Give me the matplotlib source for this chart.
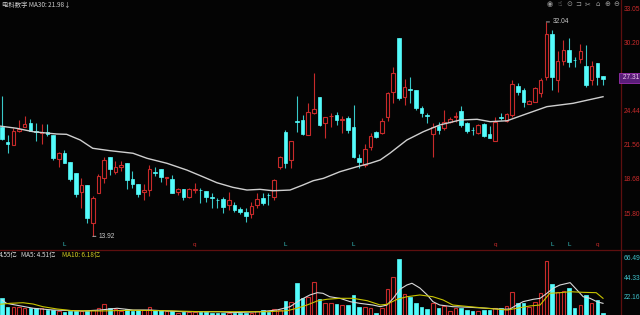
import numpy as np
import matplotlib
matplotlib.use("Agg")
import matplotlib.pyplot as plt
from matplotlib.lines import Line2D

plt.rcParams['font.family'] = ['Noto Sans CJK SC', 'DejaVu Sans']

# daily candles, oldest first
opens = [23.19, 21.92, 21.61, 22.82, 23.19, 23.52, 22.82, 22.62, 22.73, 22.48,
         20.43, 20.94, 20.18, 19.25, 17.69, 18.26, 15.07, 17.61, 18.87, 20.60,
         19.38, 19.82, 20.09, 18.76, 18.34, 17.69, 17.83, 19.33, 19.58, 18.85,
         18.74, 17.69, 17.95, 17.22, 17.83, 17.86, 17.75, 17.22, 17.01, 17.05,
         16.57, 16.57, 16.23, 16.00, 15.78, 16.57, 17.18, 17.44, 17.27, 19.80,
         22.76, 20.37, 23.64, 23.75, 22.48, 24.32, 25.67, 23.52, 24.06, 24.17,
         23.78, 23.90, 23.13, 20.56, 19.95, 21.44, 22.71, 22.68, 24.03, 26.14,
         30.66, 25.67, 26.37, 26.29, 24.79, 24.15, 22.57, 23.24, 23.05, 23.61,
         24.00, 24.54, 23.52, 22.93, 22.62, 23.39, 22.54, 22.00, 24.00, 23.69,
         24.17, 26.65, 26.29, 25.08, 25.30, 26.01, 27.41, 31.02, 27.13, 28.74,
         29.67, 28.85, 28.88, 28.34, 27.13, 28.59, 27.45]
closes = [22.12, 21.70, 22.82, 23.03, 23.41, 22.85, 22.70, 22.76, 22.57, 20.56,
          20.94, 20.14, 18.76, 17.50, 18.26, 15.44, 17.18, 19.02, 20.37, 19.61,
          19.75, 19.91, 18.68, 18.34, 17.50, 17.83, 19.58, 19.24, 18.91, 18.91,
          17.61, 17.95, 17.22, 17.95, 17.89, 17.81, 17.22, 17.16, 16.96, 16.37,
          16.99, 16.14, 15.95, 15.64, 16.51, 17.05, 16.76, 17.39, 18.68, 20.65,
          20.14, 21.98, 23.58, 22.54, 24.40, 24.66, 23.33, 23.98, 24.12, 23.75,
          23.84, 22.91, 20.60, 20.18, 21.30, 22.42, 22.34, 23.67, 26.01, 27.70,
          25.59, 26.56, 26.31, 24.74, 24.32, 24.09, 23.13, 22.91, 23.61, 23.81,
          24.06, 23.33, 22.82, 22.88, 23.33, 22.40, 22.20, 23.61, 23.95, 24.23,
          26.80, 26.14, 25.30, 25.36, 26.43, 27.13, 31.02, 27.41, 28.70, 29.67,
          28.68, 28.80, 29.61, 26.71, 28.34, 27.36, 27.20]
highs = [25.78, 22.48, 23.08, 23.75, 24.05, 23.80, 23.50, 23.41, 23.41, 22.48,
         21.07, 21.22, 20.20, 19.27, 18.82, 18.26, 17.35, 19.19, 20.60, 20.62,
         20.29, 20.29, 20.12, 19.44, 18.34, 18.34, 19.95, 19.75, 19.61, 18.91,
         19.10, 18.03, 17.95, 18.00, 18.40, 17.98, 17.79, 17.56, 17.13, 17.22,
         17.64, 16.79, 16.37, 16.34, 16.85, 17.56, 17.56, 17.56, 18.76, 20.71,
         22.91, 21.98, 25.78, 24.17, 25.21, 27.70, 25.70, 23.98, 24.32, 24.45,
         24.09, 24.09, 25.02, 20.88, 21.70, 22.63, 22.85, 23.90, 26.14, 28.26,
         30.66, 27.19, 27.41, 26.29, 24.93, 24.37, 23.47, 23.61, 24.60, 24.03,
         24.45, 24.93, 23.58, 23.19, 23.39, 23.47, 23.24, 24.03, 24.32, 24.32,
         27.13, 26.85, 26.43, 25.44, 26.57, 27.28, 32.04, 31.36, 29.58, 30.51,
         30.66, 29.10, 30.18, 30.09, 28.76, 28.59, 27.45]
lows = [22.06, 20.99, 21.61, 22.76, 23.19, 22.82, 22.00, 21.70, 22.40, 20.37,
        19.75, 20.09, 18.62, 17.27, 16.29, 15.02, 13.92, 17.61, 18.40, 19.10,
        19.19, 19.44, 17.89, 17.98, 17.27, 16.99, 17.35, 19.02, 18.54, 18.26,
        17.56, 17.41, 16.99, 17.18, 17.61, 16.71, 16.84, 16.29, 16.29, 15.92,
        16.14, 15.95, 15.78, 15.16, 15.50, 16.29, 16.57, 16.57, 16.99, 19.58,
        19.72, 19.67, 22.76, 22.48, 22.48, 24.26, 23.27, 22.20, 23.13, 23.33,
        22.63, 22.63, 20.51, 19.67, 19.80, 21.22, 22.20, 22.57, 23.69, 25.16,
        25.44, 25.02, 25.16, 24.60, 24.03, 23.52, 20.65, 22.57, 22.91, 23.47,
        23.61, 23.19, 22.63, 22.48, 22.57, 22.34, 22.20, 22.00, 23.75, 23.61,
        24.03, 25.86, 24.88, 25.08, 25.25, 25.72, 27.13, 26.29, 26.12, 28.40,
        28.26, 28.26, 28.54, 26.57, 26.71, 26.71, 26.71]
volumes = [21.8, 12.3, 12.3, 12.3, 10.5, 11.1, 10.5, 10.5, 8.5, 8.5,
           7.4, 6.6, 7.4, 7.4, 7.4, 7.7, 8.5, 10.5, 15.0, 11.1,
           9.3, 7.7, 9.7, 7.4, 8.5, 8.5, 11.6, 8.5, 8.5, 7.7,
           7.7, 5.5, 6.6, 6.6, 6.6, 6.6, 6.6, 5.5, 5.5, 5.1,
           5.1, 4.8, 4.8, 4.8, 5.5, 7.4, 8.5, 6.6, 9.7, 8.5,
           18.8, 18.0, 38.9, 21.8, 23.6, 40.7, 21.0, 16.8, 16.1, 15.0,
           14.2, 14.2, 25.6, 12.3, 11.6, 11.1, 5.5, 10.5, 32.4, 45.7,
           66.5, 26.7, 23.6, 16.1, 12.3, 9.7, 16.8, 11.1, 13.1, 7.4,
           11.1, 11.1, 8.5, 7.7, 7.7, 8.5, 8.5, 11.1, 10.5, 13.1,
           29.3, 16.8, 16.1, 12.3, 17.3, 27.5, 64.6, 38.1, 29.3, 30.5,
           33.9, 10.5, 14.2, 25.6, 16.1, 19.9, 4.55]

# MA lines read at points along the curves (candle index, value)
ma30_idx = [-0.4, 2.6, 5.5, 9.6, 11.4, 13.8, 16.0, 19.0, 23.1, 25.6, 29.1, 32.6,
            35.4, 37.9, 40.7, 43.2, 45.5, 47.8, 50.8, 53.1, 54.9, 56.7, 59.6,
            62.6, 64.9, 66.7, 68.4, 71.4, 74.3, 77.2, 80.8, 83.8, 86.1, 89.1,
            91.9, 96.1, 100.7, 106]
ma30_val = [23.24, 23.05, 22.76, 22.57, 22.54, 22.06, 21.36, 21.16, 20.94, 20.51,
            20.09, 19.52, 18.96, 18.45, 18.06, 17.83, 17.89, 17.77, 17.83, 18.26,
            18.62, 18.82, 19.38, 19.80, 20.09, 20.37, 20.94, 22.06, 22.76, 23.33,
            23.75, 23.81, 23.61, 23.69, 24.17, 24.88, 25.16, 25.72]
vma5_idx = [0, 0.8, 5.5, 9, 14.3, 17.3, 20.3, 23.1, 26.1, 29.1, 31.9, 38.4, 40.7,
            45.5, 48.5, 50.8, 52.6, 54.3, 55.6, 56.6, 57.8, 59.6, 61.4, 63.1,
            65.4, 66.7, 67.9, 69, 70.2, 71.4, 72.3, 73.7, 75, 76, 77.2, 79.5,
            82.5, 85.5, 88.4, 89.6, 90.8, 91.9, 93.7, 94.9, 96.1, 97.2, 98.4,
            100.2, 101.4, 102.5, 103.7, 104.9, 106]
vma5_val = [19.9, 16.1, 10.5, 8.5, 7.4, 8.5, 10.5, 8.5, 8.5, 7.4, 6.6, 6.6, 5.5,
            6.6, 8.5, 12.3, 19.9, 25.6, 28.2, 27.5, 23.6, 21.8, 18.0, 16.1,
            14.2, 12.3, 14.2, 21.8, 32.1, 36.9, 38.9, 33.5, 25.6, 18.0, 14.2,
            12.3, 11.6, 10.5, 9.3, 9.7, 14.2, 18.0, 20.7, 21.8, 27.5, 33.2,
            36.9, 39.6, 31.3, 23.6, 21.8, 18.0, 16.1]
vma10_idx = [-0.4, 1.4, 3.7, 5.5, 7.2, 9.7, 12.5, 17.3, 23.1, 29.1, 34.9, 46.7,
             50.3, 52, 53.8, 55.6, 57.3, 59.6, 61.9, 64.4, 66.7, 67.9, 69.7,
             71.4, 73.7, 76, 77.8, 79.5, 82.5, 85.5, 89.1, 90.8, 93.1, 94.9,
             96.6, 98.4, 100.2, 102.5, 104.8, 106]
vma10_val = [15.0, 16.1, 16.8, 15.3, 12.3, 9.7, 7.7, 7.4, 8.2, 7.7, 6.6, 6.6,
             7.7, 10.5, 14.2, 18.8, 20.7, 21.8, 21.8, 19.1, 14.2, 15.0, 20.7,
             23.6, 25.6, 23.6, 19.9, 14.2, 12.3, 10.5, 8.5, 10.5, 13.1, 14.2,
             27.5, 28.2, 29.3, 28.6, 28.2, 21.8]

price_ticks = [33.05, 30.20, 27.31, 24.44, 21.56, 18.68, 15.80]
last_price = 27.31
vol_ticks = [66.49, 44.33, 22.16]
mark_idx = [11, 34, 50, 62, 87, 97, 100, 105]
mark_txt = ['L', 'q', 'L', 'L', 'q', 'L', 'L', 'q']

BG = '#040404'
RED = '#c82a2a'
CYAN = '#54fcfc'
CYAN_WICK = '#38c8c8'
GRID = '#5e0f0f'

opens, closes = np.array(opens), np.array(closes)
highs, lows, volumes = np.array(highs), np.array(lows), np.array(volumes)
x = np.arange(len(closes))
up = closes >= opens

W, H = 640, 315
fig = plt.figure(figsize=(6.4, 3.15), dpi=100, facecolor=BG)
ax = fig.add_axes([0, 1 - 249 / H, 621 / W, 249 / H])
axv = fig.add_axes([0, 0, 621 / W, 65 / H])

for a in (ax, axv):
    a.set_facecolor(BG)
    a.set_xticks([])
    a.set_yticks([])
    for s in ('top', 'left', 'bottom'):
        a.spines[s].set_visible(False)
    a.spines['right'].set_color(GRID)
    a.spines['right'].set_linewidth(0.9)
    a.set_xlim(-0.35, 109.17)

ax.set_ylim(12.846, 33.895)
axv.set_ylim(2.84, 76.7)

# candles
body_lo = np.minimum(opens, closes)
body_h = np.maximum(np.abs(closes - opens), 0.05)
ax.vlines(x[up], lows[up], highs[up], color=RED, lw=0.8, zorder=1)
ax.vlines(x[~up], lows[~up], highs[~up], color=CYAN_WICK, lw=0.8, zorder=1)
ax.bar(x[up], body_h[up], bottom=body_lo[up], width=0.64, facecolor=BG,
       edgecolor=RED, lw=0.8, zorder=2)
ax.bar(x[~up], body_h[~up], bottom=body_lo[~up], width=0.64, color=CYAN,
       edgecolor=CYAN, lw=0.5, zorder=2)
ax.plot(ma30_idx, ma30_val, color='#cfcfcf', lw=1.0, zorder=3)

# high / low markers
for i, v in ((int(highs.argmax()), highs.max()), (int(lows.argmin()), lows.min())):
    ax.annotate(f'{v:.2f}', xy=(i, v), xytext=(6, 0), textcoords='offset pixels',
                color='#c8c8c8', fontsize=4.8, va='center', ha='left',
                family='Liberation Sans',
                arrowprops=dict(arrowstyle='-', color='#c8c8c8', lw=0.6,
                                shrinkA=0, shrinkB=0))

# event markers along the bottom of the price panel
for i, t in zip(mark_idx, mark_txt):
    ax.text(i, 0.02, t, transform=ax.get_xaxis_transform(), ha='center',
            va='center', fontsize=4.5, color=CYAN_WICK if t == 'L' else RED,
            family='Liberation Sans')

# right price scale
for v in price_ticks:
    if v == last_price:
        ax.text(1.0, v, f' {v:.2f} ', transform=ax.get_yaxis_transform(),
                color='#f0c8f0', fontsize=4.8, va='center', ha='left',
                family='Liberation Sans',
                bbox=dict(boxstyle='square,pad=0.25', fc='#5a1d78', ec='#9a2fb0', lw=0.6))
    else:
        ax.text(1.004, v, f'{v:.2f}', transform=ax.get_yaxis_transform(),
                color=RED, fontsize=4.8, va='center', ha='left',
                family='Liberation Sans')

# volume panel
axv.bar(x[up], volumes[up], width=0.64, facecolor=BG, edgecolor=RED, lw=0.8)
axv.bar(x[~up], volumes[~up], width=0.64, color=CYAN, edgecolor=CYAN, lw=0.5)
axv.plot(vma5_idx, vma5_val, color='#d8d8d8', lw=0.8)
axv.plot(vma10_idx, vma10_val, color='#c8c400', lw=0.8)
for v in vol_ticks:
    axv.text(1.004, v, f'{v:.2f}', transform=axv.get_yaxis_transform(),
             color='#3fc3cc', fontsize=4.8, va='center', ha='left',
             family='Liberation Sans')

# separator between panels
fig.add_artist(Line2D([0, 1], [1 - 249.5 / H] * 2, color=GRID, lw=0.9))

# header texts
fig.text(2 / W, 1 - 4.8 / H, '电科数字 MA30: 21.98↓', color='#cfcfcf',
         fontsize=4.6, va='center', ha='left')
fig.text(-1 / W, 1 - 254.7 / H, '4.55亿', color='#dcdcdc', fontsize=4.6,
         va='center', ha='left')
fig.text(21 / W, 1 - 254.7 / H, 'MA5: 4.51亿', color='#dcdcdc', fontsize=4.6,
         va='center', ha='left')
fig.text(62 / W, 1 - 254.7 / H, 'MA10: 6.18亿', color='#d0cc20', fontsize=4.6,
         va='center', ha='left')

# toolbar icons
icons = ['◉', '☝', '⊙', '⊐', '✂', '⌂', '⊕', '⊖']
for k, g in enumerate(icons):
    fig.text((550 + 9.5 * k) / W, 1 - 4.5 / H, g, color='#9a9a9a', fontsize=5,
             va='center', ha='center', family=['DejaVu Sans', 'Noto Sans CJK SC'])

fig.savefig('out.png', dpi=100, facecolor=BG)
